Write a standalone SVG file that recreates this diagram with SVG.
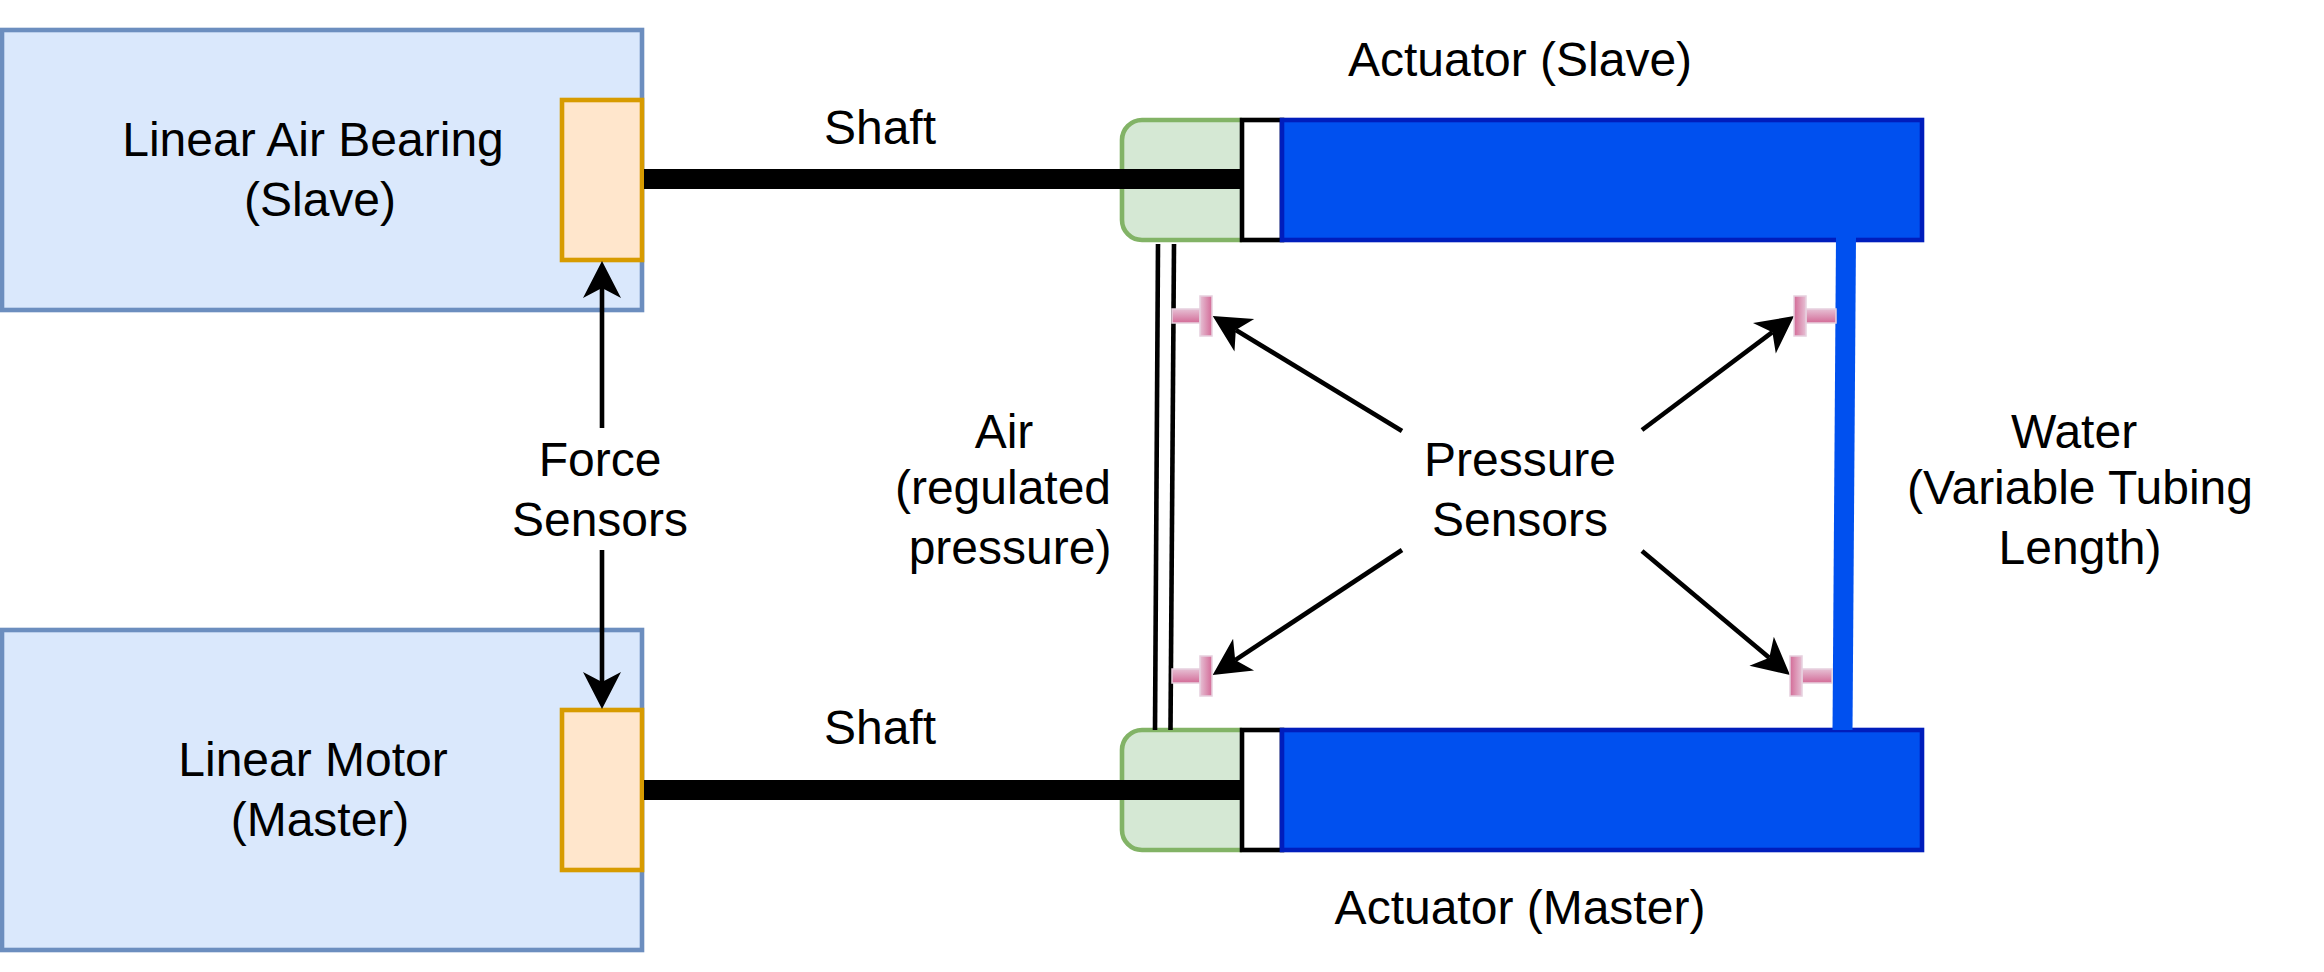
<svg xmlns="http://www.w3.org/2000/svg" width="2324" height="972" viewBox="0 0 2324 972">
<style>
text{font-family:"Liberation Sans",Arial,sans-serif;font-size:48px;fill:#000;text-anchor:middle}
.blue{fill:#dae8fc;stroke:#6c8ebf;stroke-width:4.6}
.orange{fill:#ffe6cc;stroke:#d79b00;stroke-width:4.6}
.green{fill:#d5e8d4;stroke:#82b366;stroke-width:4.6}
.white{fill:#fff;stroke:#000;stroke-width:4.6}
.water{fill:#0050ef;stroke:#001dbc;stroke-width:4.6}
.shaft{stroke:#000;stroke-width:20;fill:none}
.thin{stroke:#000;stroke-width:4.6;fill:none}
.arrow{stroke:#000;stroke-width:4.6;fill:none;marker-end:url(#head)}
.stem{fill:url(#gv);stroke:#e6d0de;stroke-width:1.5}
.capL{fill:url(#gh1);stroke:#e6d0de;stroke-width:1.5}
.capR{fill:url(#gh2);stroke:#e6d0de;stroke-width:1.5}
</style>
<defs>
<marker id="head" markerUnits="userSpaceOnUse" viewBox="-11 -20 40 40" markerWidth="40" markerHeight="40" refX="0" refY="0" orient="auto"><path d="M27,0L-10,-19L0,0L-10,19Z" fill="#000"/></marker>
<linearGradient id="gv" x1="0" y1="0" x2="0" y2="1"><stop offset="0" stop-color="#e6c0d4"/><stop offset="0.9" stop-color="#d5739d"/></linearGradient>
<linearGradient id="gh1" x1="0" y1="0" x2="1" y2="0"><stop offset="0" stop-color="#e6c0d4"/><stop offset="0.9" stop-color="#d5739d"/></linearGradient>
<linearGradient id="gh2" x1="0" y1="0" x2="1" y2="0"><stop offset="0.1" stop-color="#d5739d"/><stop offset="1" stop-color="#e6c0d4"/></linearGradient>
</defs>
<g id="bearing"><rect class="blue" x="2" y="30" width="640" height="280"/><text x="313" y="156">Linear Air Bearing</text><text x="320" y="216">(Slave)</text></g>
<g id="motor"><rect class="blue" x="2" y="630" width="640" height="320"/><text x="313" y="776">Linear Motor</text><text x="320" y="836">(Master)</text></g>
<g id="force-slave"><rect class="orange" x="562" y="100" width="80" height="160"/></g>
<g id="force-master"><rect class="orange" x="562" y="710" width="80" height="160"/></g>
<g id="act-slave-green"><path class="green" d="M1242,120H1142A20,20 0 0 0 1122,140V220A20,20 0 0 0 1142,240H1242"/></g>
<g id="act-slave-piston"><rect class="white" x="1242" y="120" width="40" height="120"/></g>
<g id="act-slave-water"><rect class="water" x="1282" y="120" width="640" height="120"/></g>
<g id="act-master-green"><path class="green" d="M1242,730H1142A20,20 0 0 0 1122,750V830A20,20 0 0 0 1142,850H1242"/></g>
<g id="act-master-piston"><rect class="white" x="1242" y="730" width="40" height="120"/></g>
<g id="act-master-water"><rect class="water" x="1282" y="730" width="640" height="120"/></g>
<g id="connectors">
<path class="shaft" d="M644,179H1242"/>
<path class="shaft" d="M644,790H1242"/>
<path class="thin" d="M1158,244L1155,730"/>
<path class="thin" d="M1174,244L1170.5,730"/>
<path d="M1846,237L1842.5,730" stroke="#0050ef" stroke-width="20" fill="none"/>
<path class="arrow" d="M602,428V288"/>
<path class="arrow" d="M602,550V682"/>
<path class="arrow" d="M1402,431L1235.8,330"/>
<path class="arrow" d="M1402,550L1235.2,660.1"/>
<path class="arrow" d="M1642,430L1772.4,332.2"/>
<path class="arrow" d="M1642,551L1769.3,657.7"/>
</g>
<g id="sensor-tl"><rect class="stem" x="1172" y="309" width="28" height="14"/><rect class="capL" x="1200" y="296" width="12" height="40"/></g>
<g id="sensor-bl"><rect class="stem" x="1172" y="669" width="28" height="14"/><rect class="capL" x="1200" y="656" width="12" height="40"/></g>
<g id="sensor-tr"><rect class="stem" x="1806" y="309" width="30" height="14"/><rect class="capR" x="1794" y="296" width="12" height="40"/></g>
<g id="sensor-br"><rect class="stem" x="1802" y="669" width="30" height="14"/><rect class="capR" x="1790" y="656" width="12" height="40"/></g>
<g id="labels">
<text x="880" y="144">Shaft</text>
<text x="880" y="744">Shaft</text>
<text x="1520" y="76">Actuator (Slave)</text>
<text x="1520" y="924">Actuator (Master)</text>
<text x="600" y="476">Force</text><text x="600" y="536">Sensors</text>
<text x="1520" y="476">Pressure</text><text x="1520" y="536">Sensors</text>
<text x="1004" y="448">Air</text><text x="1003" y="504">(regulated</text><text x="1010" y="564">pressure)</text>
<text x="2074" y="448">Water</text><text x="2080" y="504">(Variable Tubing</text><text x="2080" y="564">Length)</text>
</g>
</svg>
